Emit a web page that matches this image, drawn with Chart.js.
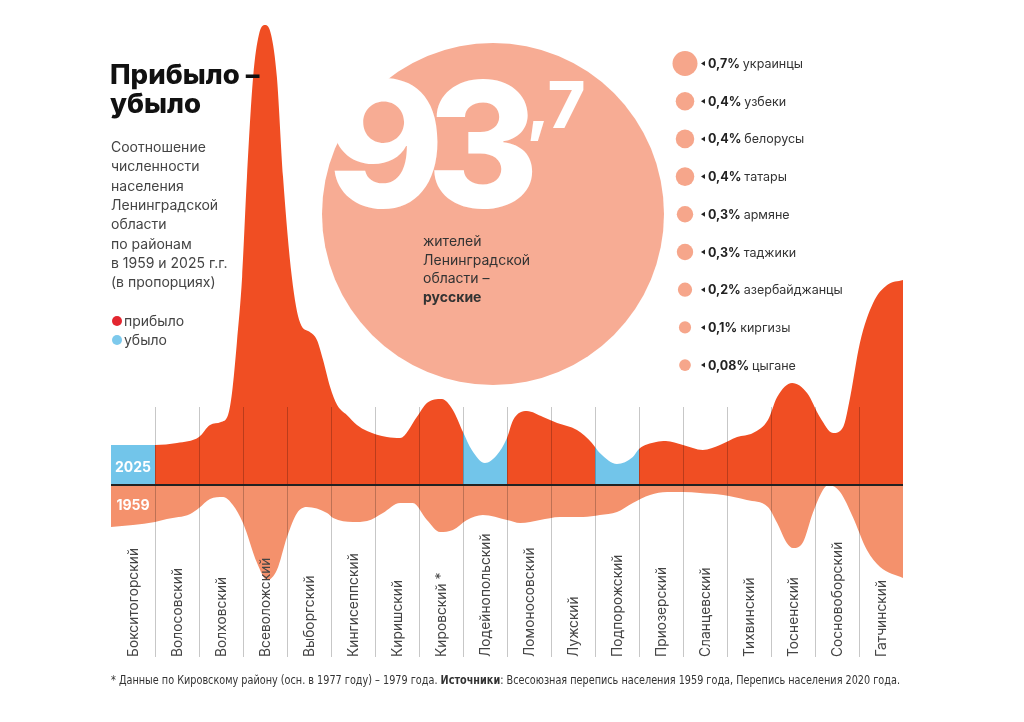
<!DOCTYPE html>
<html lang="ru">
<head>
<meta charset="utf-8">
<title>Прибыло – убыло</title>
<script src="https://cdn.jsdelivr.net/npm/chart.js@4.4.1/dist/chart.umd.min.js"></script>
<style>
  html, body { margin: 0; padding: 0; background: #fff; }
  #myCanvas { display: block; }
</style>
</head>
<body>
<canvas id="myCanvas" width="1024" height="722"></canvas>
<script>
// districts, left to right
var districts = ['Бокситогорский', 'Волосовский', 'Волховский', 'Всеволожский', 'Выборгский',
  'Кингисеппский', 'Киришский', 'Кировский *', 'Лодейнопольский', 'Ломоносовский', 'Лужский',
  'Подпорожский', 'Приозерский', 'Сланцевский', 'Тихвинский', 'Тосненский', 'Сосновоборский', 'Гатчинский'];
// districts that lost share (drawn blue)
var lossDistricts = [0, 8, 11];

// 2025 curve (position in district units, height)
var pos2025 = [0, 0.5, 1, 1.5, 2, 2.25, 2.5, 2.66, 2.75, 2.86, 2.98, 3.09, 3.23, 3.36, 3.5, 3.64, 3.77, 3.91,
  4.11, 4.3, 4.52, 4.68, 4.82, 4.98, 5.14, 5.36, 5.59, 5.82, 6.27, 6.57, 6.95, 7.18, 7.52, 7.77, 8, 8.2, 8.5,
  8.77, 9, 9.14, 9.45, 9.82, 10.14, 10.59, 10.93, 11, 11.11, 11.5, 11.86, 12, 12.39, 12.61, 13, 13.45, 13.84,
  14.23, 14.59, 14.93, 15.14, 15.48, 15.82, 16.11, 16.41, 16.64, 16.8, 17.02, 17.32, 17.64, 18];
var val2025 = [40, 40, 40, 42, 48, 60, 63, 70, 92, 142, 208, 308, 408, 450, 460, 450, 408, 308,
  208, 162, 153, 145, 125, 98, 80, 70, 60, 54, 48, 47, 68, 82, 86, 75, 53, 35, 22,
  30, 47, 65, 74, 68, 62, 55, 42, 38, 32, 21, 28, 36, 43, 44, 40, 35, 40,
  48, 52, 65, 88, 102, 92, 68, 52, 58, 88, 142, 182, 200, 205];

// 1959 curve (drawn below the axis)
var pos1959 = [0, 1, 1.27, 1.8, 2, 2.25, 2.55, 2.77, 3, 3.32, 3.55, 3.77, 4, 4.23, 4.45, 4.91, 5.05, 5.5,
  5.82, 6.18, 6.57, 6.86, 7.18, 7.48, 7.77, 8.09, 8.45, 9, 9.3, 9.75, 10.2, 10.73, 11.11, 11.5, 11.86,
  12.25, 12.64, 13, 13.39, 13.91, 14.45, 14.93, 15.14, 15.36, 15.5, 15.73, 15.95, 16.18, 16.3, 16.57,
  16.86, 17.18, 17.48, 18];
var val1959 = [-42, -37, -34, -29, -23, -14, -12, -20, -38, -78, -95, -85, -52, -28, -22, -28, -33, -37,
  -36, -28, -18, -18, -35, -47, -45, -35, -30, -35, -38, -35, -32, -32, -30, -27, -18,
  -10, -7, -7, -8, -10, -15, -22, -38, -58, -63, -57, -28, -5, 0, -7,
  -32, -65, -82, -93];

// nationalities
var russianShare = ['93', ',7'];
var nationLabels = ['0,7%', '0,4%', '0,4%', '0,4%', '0,3%', '0,3%', '0,2%', '0,1%', '0,08%'];
var nationShares = [0.7, 0.4, 0.4, 0.4, 0.3, 0.3, 0.2, 0.1, 0.08];
var nationNames = ['украинцы', 'узбеки', 'белорусы', 'татары', 'армяне', 'таджики', 'азербайджанцы', 'киргизы', 'цыгане'];

var subtitle = ['Соотношение', 'численности', 'населения', 'Ленинградской', 'области', 'по районам',
  'в 1959 и 2025 г.г.', '(в пропорциях)'];
var circleText = ['жителей', 'Ленинградской', 'области –'];

var RED = '#F04E23', BLUE = '#72C5EA', SALMON = '#F4916C', CIRCLE = '#F7AC94', BUBBLE = '#F6A68B';
var FONT = 'Inter, "Noto Sans", sans-serif';

function toPoints(xs, ys) {
  return xs.map(function (x, i) { return { x: x, y: ys[i] }; });
}
function isLoss(x) {
  return lossDistricts.indexOf(Math.floor(x + 1e-6)) >= 0;
}
function wideText(ctx, t, x, y, sx) {
  ctx.save();
  ctx.translate(x, y);
  ctx.scale(sx, 1);
  ctx.fillText(t, 0, 0);
  ctx.restore();
}

var decor = {
  id: 'decor',
  beforeDatasetsDraw: function (chart) {
    var ctx = chart.ctx;
    ctx.save();
    ctx.fillStyle = '#fff';
    ctx.fillRect(0, 0, chart.width, chart.height);

    ctx.fillStyle = '#444';
    ctx.font = '14px ' + FONT;
    subtitle.forEach(function (t, i) { ctx.fillText(t, 111, 152 + i * 19.3); });

    // legend
    ctx.fillStyle = '#E3262F';
    ctx.beginPath(); ctx.arc(117, 321, 5, 0, Math.PI * 2); ctx.fill();
    ctx.fillStyle = '#7DC9EC';
    ctx.beginPath(); ctx.arc(117, 340, 5, 0, Math.PI * 2); ctx.fill();
    ctx.fillStyle = '#444';
    ctx.fillText('прибыло', 124, 326);
    ctx.fillText('убыло', 124, 345);

    // big circle
    ctx.fillStyle = CIRCLE;
    ctx.beginPath(); ctx.arc(493, 214, 171, 0, Math.PI * 2); ctx.fill();

    ctx.fillStyle = '#fff';
    ctx.font = '800 174px ' + FONT;
    wideText(ctx, russianShare[0][0], 326, 207, 1.03);
    wideText(ctx, russianShare[0][1], 427, 207, 0.98);
    ctx.font = '800 64px ' + FONT;
    ctx.fillText(russianShare[1], 527, 128);

    ctx.fillStyle = '#333';
    ctx.font = '14px ' + FONT;
    circleText.forEach(function (t, i) { ctx.fillText(t, 423, 246 + i * 18.7); });
    ctx.font = '700 14px ' + FONT;
    ctx.fillText('русские', 423, 302);

    // nationalities
    nationShares.forEach(function (s, i) {
      var cy = 63.5 + i * 37.7;
      ctx.fillStyle = BUBBLE;
      ctx.beginPath(); ctx.arc(685, cy, 5 + 10.7 * s, 0, Math.PI * 2); ctx.fill();
      ctx.fillStyle = '#222';
      ctx.beginPath(); ctx.moveTo(701, cy); ctx.lineTo(705, cy - 2.5); ctx.lineTo(705, cy + 2.5); ctx.fill();
      ctx.font = '700 12.5px ' + FONT;
      ctx.fillText(nationLabels[i], 708, cy + 4.5);
      var w = ctx.measureText(nationLabels[i] + ' ').width;
      ctx.fillStyle = '#333';
      ctx.font = '12.5px ' + FONT;
      ctx.fillText(nationNames[i], 708 + w, cy + 4.5);
    });
    ctx.restore();
  },
  afterDatasetsDraw: function (chart) {
    var ctx = chart.ctx;
    var xs = chart.scales.x, ys = chart.scales.y;
    var y0 = ys.getPixelForValue(0);
    ctx.save();

    // title (sits over the peak)
    ctx.fillStyle = '#111';
    ctx.font = '800 27px ' + FONT;
    wideText(ctx, 'Прибыло –', 110, 84, 1.02);
    wideText(ctx, 'убыло', 110, 113, 1.02);

    // column separators
    ctx.strokeStyle = 'rgba(0,0,0,0.22)';
    ctx.lineWidth = 1;
    for (var k = 1; k < districts.length; k++) {
      var gx = Math.round(xs.getPixelForValue(k)) + 0.5;
      ctx.beginPath(); ctx.moveTo(gx, 407); ctx.lineTo(gx, 657); ctx.stroke();
    }

    // axis
    ctx.strokeStyle = '#222';
    ctx.lineWidth = 2;
    ctx.beginPath(); ctx.moveTo(xs.left, y0); ctx.lineTo(xs.right, y0); ctx.stroke();

    // year labels
    var cx0 = xs.getPixelForValue(0.5);
    ctx.fillStyle = '#fff';
    ctx.font = '700 14px ' + FONT;
    ctx.textAlign = 'center';
    ctx.fillText('2025', cx0, y0 - 13);
    ctx.fillText('1959', cx0, y0 + 25);

    // district names
    ctx.fillStyle = '#444';
    ctx.font = '13.8px ' + FONT;
    ctx.textAlign = 'left';
    ctx.textBaseline = 'middle';
    districts.forEach(function (d, i) {
      ctx.save();
      ctx.translate(xs.getPixelForValue(i + 0.5) + 1, 657);
      ctx.rotate(-Math.PI / 2);
      ctx.fillText(d, 0, 0);
      ctx.restore();
    });

    // footnote
    ctx.textBaseline = 'alphabetic';
    var fn = '"Liberation Sans Narrow", "DejaVu Sans Condensed", ' + FONT;
    var parts = [['* Данные по Кировскому району (осн. в 1977 году) – 1979 года. ', '400'],
      ['Источники', '700'], [': Всесоюзная перепись населения 1959 года, Перепись населения 2020 года.', '400']];
    var total = 0;
    parts.forEach(function (p) { ctx.font = p[1] + ' 11.5px ' + fn; p.push(ctx.measureText(p[0]).width); total += p[2]; });
    var sc = 789 / total;
    ctx.translate(111, 684);
    ctx.scale(sc, 1);
    var fx = 0;
    ctx.fillStyle = '#333';
    parts.forEach(function (p) { ctx.font = p[1] + ' 11.5px ' + fn; ctx.fillText(p[0], fx, 0); fx += p[2]; });
    ctx.restore();
  }
};

new Chart(document.getElementById('myCanvas'), {
  type: 'line',
  data: {
    datasets: [{
      label: '2025',
      data: toPoints(pos2025, val2025),
      fill: 'origin',
      backgroundColor: RED,
      borderWidth: 0,
      borderColor: 'rgba(0,0,0,0)',
      pointRadius: 0,
      cubicInterpolationMode: 'monotone',
      segment: {
        backgroundColor: function (c) { return isLoss(c.p0.parsed.x) ? BLUE : RED; }
      }
    }, {
      label: '1959',
      data: toPoints(pos1959, val1959),
      fill: 'origin',
      backgroundColor: SALMON,
      borderWidth: 0,
      borderColor: 'rgba(0,0,0,0)',
      pointRadius: 0,
      cubicInterpolationMode: 'monotone'
    }]
  },
  options: {
    responsive: false,
    animation: false,
    devicePixelRatio: 1,
    layout: { padding: { left: 111, right: 121, top: 15, bottom: 0 } },
    plugins: { legend: { display: false }, tooltip: { enabled: false } },
    scales: {
      x: { type: 'linear', min: 0, max: 18, display: false },
      y: { min: -237, max: 470, display: false }
    }
  },
  plugins: [decor]
});
</script>
</body>
</html>
